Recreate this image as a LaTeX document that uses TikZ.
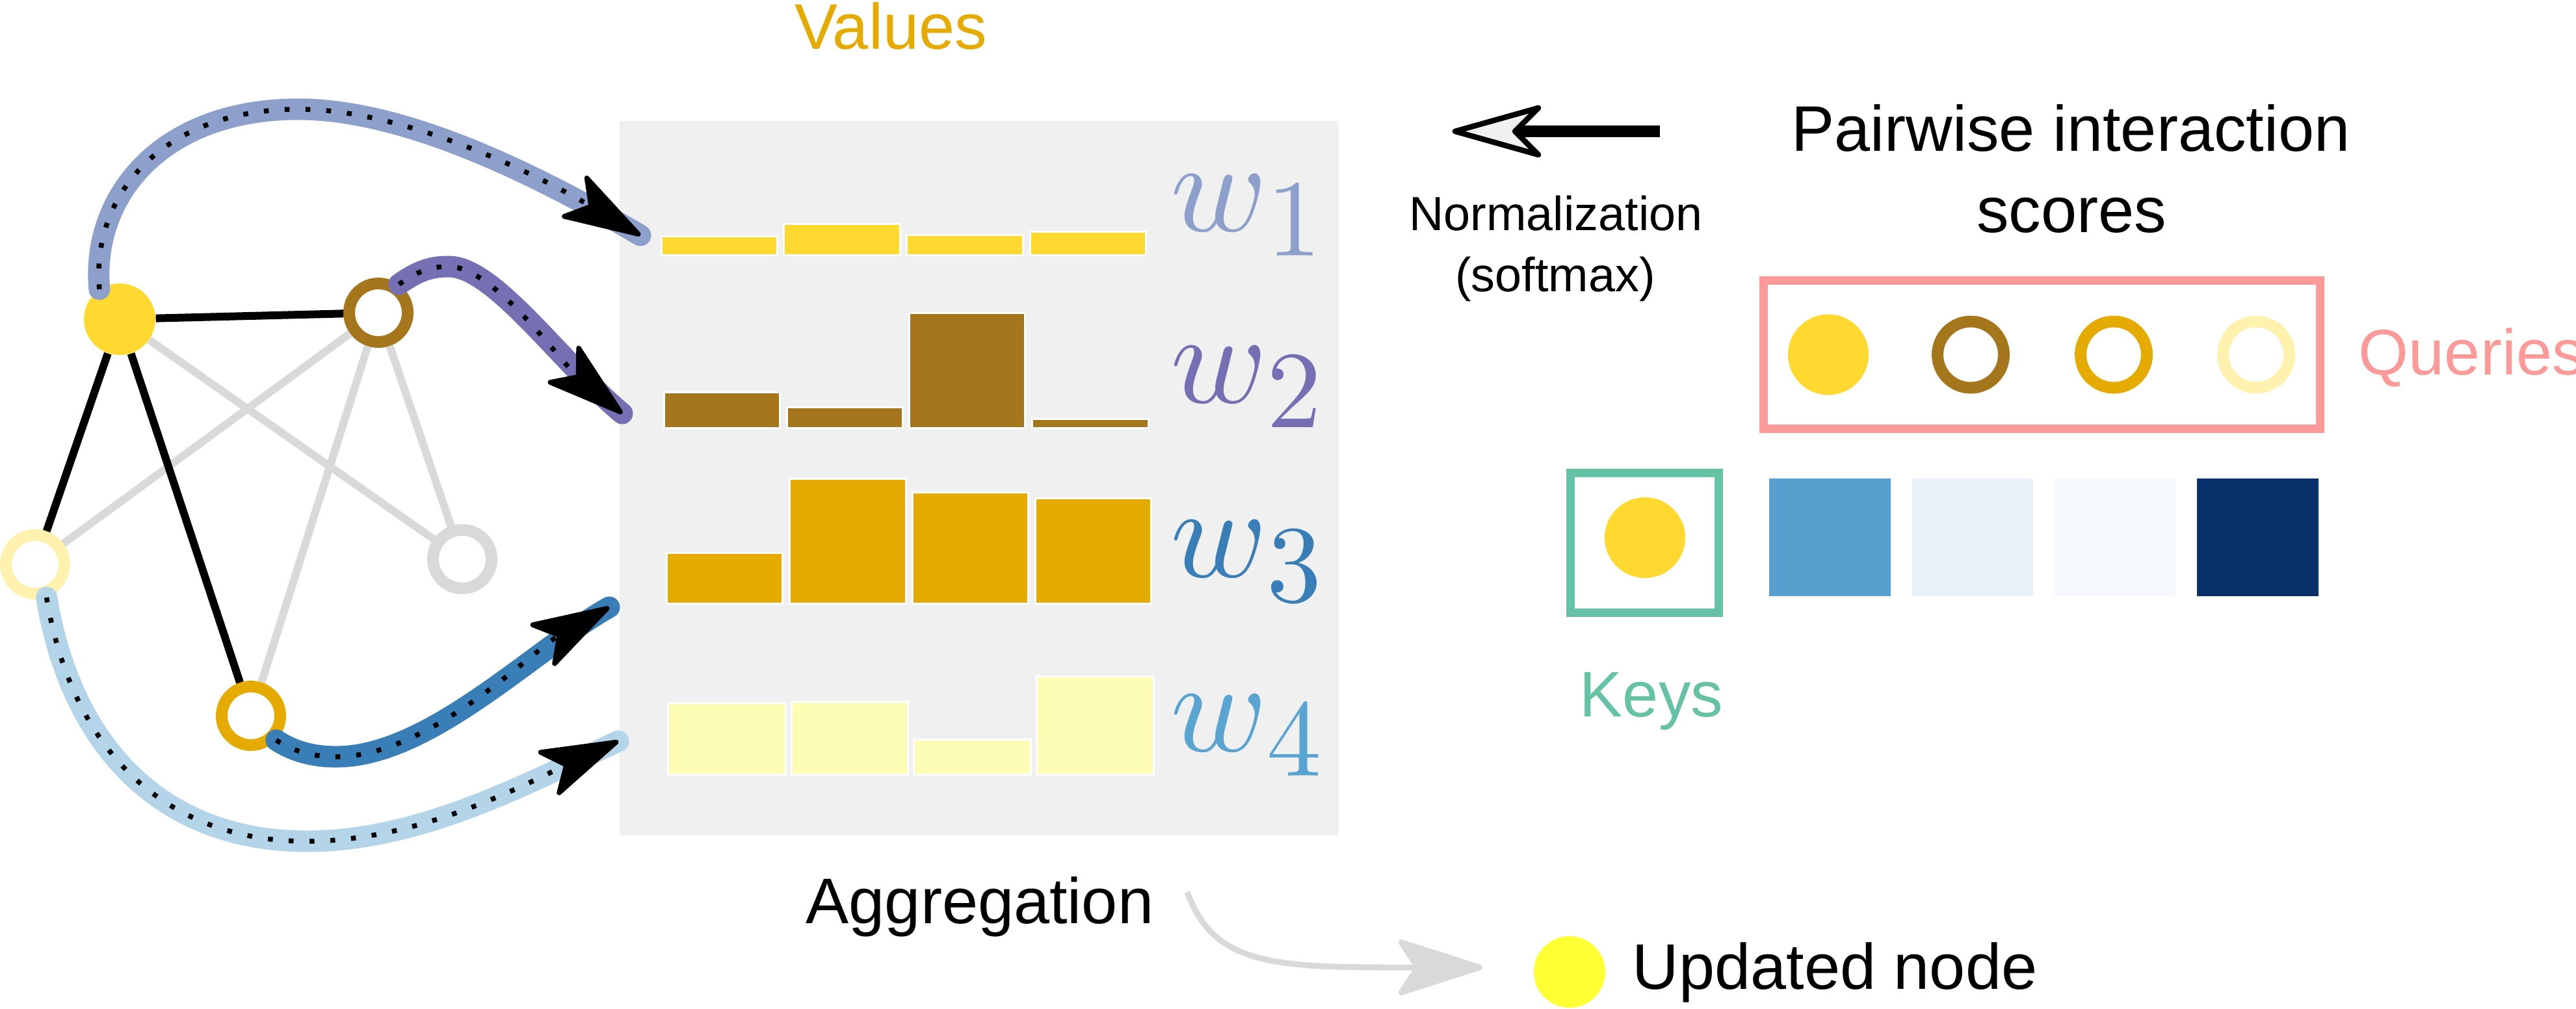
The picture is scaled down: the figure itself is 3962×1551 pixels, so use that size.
\documentclass[tikz,border=0pt]{standalone}
\usepackage{fontspec}
\setmainfont{Liberation Sans}
\newfontfamily\lmm{Latin Modern Math}
\usetikzlibrary{arrows.meta}
\definecolor{nYellow}{HTML}{FFD92F}
\definecolor{nBrown}{HTML}{A6761D}
\definecolor{nGold}{HTML}{E6AB02}
\definecolor{nLight}{HTML}{FFF2AE}
\definecolor{cEdge}{HTML}{D9D9D9}
\definecolor{cPanel}{HTML}{F0F0F0}
\definecolor{cBarL}{HTML}{FDFDB5}
\definecolor{cA}{HTML}{8DA0CB}
\definecolor{cB}{HTML}{7570B3}
\definecolor{cC}{HTML}{3A7EB8}
\definecolor{cD}{HTML}{B4D4E9}
\definecolor{cWfour}{HTML}{5AA4D2}
\definecolor{cQ}{HTML}{FB9A99}
\definecolor{cK}{HTML}{66C2A5}
\definecolor{sA}{HTML}{569FCE}
\definecolor{sB}{HTML}{E9F1FA}
\definecolor{sC}{HTML}{F5F9FE}
\definecolor{sD}{HTML}{08306B}
\definecolor{cUpd}{HTML}{FFFF33}
\newcommand\bigtxt{\fontsize{28.2pt}{34pt}\selectfont}
\newcommand\midtxt{\fontsize{21pt}{25pt}\selectfont}
\newcommand\wsym[1]{{\lmm\fontsize{57}{60}\selectfont\char"1D464\kern0.02em\raisebox{-3.8mm}{\fontsize{48}{50}\selectfont #1}}}
\tikzset{
  gnode/.style={circle, inner sep=0pt, minimum size=9mm, line width=1.8mm, draw=#1, fill=white},
  fnode/.style={circle, inner sep=0pt, minimum size=11mm, fill=#1},
  qring/.style={circle, inner sep=0pt, minimum size=10.2mm, line width=1.8mm, draw=#1, fill=white},
  qfill/.style={circle, inner sep=0pt, minimum size=12.4mm, fill=nYellow},
  strongedge/.style={line width=1.2mm, black},
  weakedge/.style={line width=1.2mm, cEdge},
  band/.style={line width=3.3mm, line cap=round, draw=#1},
  dotline/.style={line width=0.75mm, black, dash pattern=on 0.75mm off 2.45mm,
    -{Stealth[length=13.5mm, width=8.2mm, inset=3.3mm, round]}},
  bar/.style={draw=white, line width=0.3mm, fill=#1},
  lbl/.style={font=\bigtxt, inner sep=0pt, anchor=base},
  wlab/.style={inner sep=0pt, anchor=base west, text=#1},
}
\begin{document}
\begin{tikzpicture}[x=0.1mm, y=-0.1mm]
\useasboundingbox (0,0) rectangle (3962,1551);

% panel
\fill[cPanel] (953,186) rectangle (2059,1285);

% graph nodes
\node[fnode=nYellow] (n1) at (184,491) {};
\node[gnode=nBrown] (n2) at (582,481) {};
\node[gnode=nLight] (n3) at (54,868) {};
\node[gnode=cEdge] (n4) at (711,860) {};
\node[gnode=nGold] (n5) at (386,1101) {};

% edges
\draw[weakedge] (n1) -- (n4);
\draw[weakedge] (n2) -- (n3);
\draw[weakedge] (n2) -- (n5);
\draw[weakedge] (n2) -- (n4);
\draw[strongedge] (n1) -- (n2);
\draw[strongedge] (n1) -- (n3);
\draw[strongedge] (n1) -- (n5);

% bars
\path[bar=nYellow] (1017,363) rectangle (1195,392);
\path[bar=nYellow] (1205,344) rectangle (1384,392);
\path[bar=nYellow] (1394,361) rectangle (1573,392);
\path[bar=nYellow] (1584,356) rectangle (1762,392);
\path[bar=nBrown] (1021,603) rectangle (1199,658);
\path[bar=nBrown] (1210,626) rectangle (1388,658);
\path[bar=nBrown] (1398,481) rectangle (1576,658);
\path[bar=nBrown] (1587,644) rectangle (1766,658);
\path[bar=nGold] (1025,850) rectangle (1203,928);
\path[bar=nGold] (1214,736) rectangle (1393,928);
\path[bar=nGold] (1403,757) rectangle (1581,928);
\path[bar=nGold] (1592,766) rectangle (1770,928);
\path[bar=cBarL] (1027,1081) rectangle (1208,1191);
\path[bar=cBarL] (1217,1079) rectangle (1396,1191);
\path[bar=cBarL] (1405,1137) rectangle (1585,1191);
\path[bar=cBarL] (1594,1040) rectangle (1774,1191);

% weight labels
\node[wlab=cA] (w1) at (1800,355) {\wsym{1}};
\node[wlab=cB] (w2) at (1800,619) {\wsym{2}};
\node[wlab=cC] (w3) at (1800,887) {\wsym{3}};
\node[wlab=cWfour] (w4) at (1800,1155) {\wsym{4}};

% message arrows
\coordinate (e1) at (985,362);
\coordinate (e2) at (957,636);
\coordinate (e3) at (937,934);
\coordinate (e4) at (951,1140);
\draw[band=cA] (n1.124) .. controls (140,300) and (250,168) .. (459,168)
   .. controls (620,168) and (820,265) .. (e1);
\draw[dotline] (n1.124) .. controls (140,300) and (250,168) .. (459,168)
   .. controls (620,168) and (820,265) .. (e1);
\draw[band=cB] (n2.54) .. controls (645,415) and (665,410) .. (690,410)
   .. controls (760,410) and (860,555) .. (e2);
\draw[dotline] (n2.54) .. controls (645,415) and (665,410) .. (690,410)
   .. controls (760,410) and (860,555) .. (e2);
\draw[band=cC] (n5.-44) .. controls (450,1155) and (480,1164) .. (517,1164)
   .. controls (660,1164) and (820,1000) .. (e3);
\draw[dotline] (n5.-44) .. controls (450,1155) and (480,1164) .. (517,1164)
   .. controls (660,1164) and (820,1000) .. (e3);
\draw[band=cD] (n3.-71) .. controls (110,1150) and (250,1294) .. (472,1294)
   .. controls (650,1294) and (820,1200) .. (e4);
\draw[dotline] (n3.-71) .. controls (110,1150) and (250,1294) .. (472,1294)
   .. controls (650,1294) and (820,1200) .. (e4);

% texts
\node[lbl, text=nGold] (values) at (1370,75) {Values};
\node[lbl] (agg) at (1507,1420) {Aggregation};
\node[lbl] (pw1) at (3185,232) {Pairwise interaction};
\node[lbl] (pw2) at (3186,357) {scores};
\node[lbl, font=\midtxt] (norm1) at (2393,354) {Normalization};
\node[lbl, font=\midtxt] (norm2) at (2392,448) {(softmax)};
\node[lbl, anchor=base west, text=cQ] (qlab) at (3627,576) {Queries};
\node[lbl, text=cK] (klab) at (2540,1102) {Keys};
\node[lbl, anchor=base west] (updlab) at (2510,1521) {Updated node};

% normalization arrow (drawn shape)
\fill[black] (2320,193) rectangle (2553,211);
\filldraw[fill=cPanel, draw=black, line width=0.85mm, line join=round]
  (2238,202) -- (2366,166) -- (2330,202) -- (2366,238) -- cycle;

% queries
\node[draw=cQ, line width=1.3mm, minimum width=85.6mm, minimum height=22.8mm, inner sep=0pt] (qbox) at (3140.5,545.5) {};
\node[qfill] (q1) at (2812,545.5) {};
\node[qring=nBrown] (q2) at (3031,545.5) {};
\node[qring=nGold] (q3) at (3251,545.5) {};
\node[qring=nLight] (q4) at (3470,545.5) {};

% keys
\node[draw=cK, line width=1.3mm, minimum width=22.8mm, minimum height=21.5mm, inner sep=0pt] (kbox) at (2529.5,835) {};
\node[qfill] (k1) at (2530,827) {};
\fill[sA] (2721,736) rectangle (2908,917);
\fill[sB] (2941,736) rectangle (3127,917);
\fill[sC] (3160,736) rectangle (3346,917);
\fill[sD] (3379,736) rectangle (3566,917);

% aggregation arrow and updated node
\node[circle, inner sep=0pt, minimum size=11mm, fill=cUpd] (upd) at (2414,1495) {};
\coordinate (aggS) at (1826,1372);
\coordinate (aggE) at (2280,1488);
\draw[cEdge, line width=0.9mm, -{Stealth[length=14.5mm, width=9.2mm, inset=3mm, round]}]
  (aggS) .. controls (1865,1480) and (1950,1488) .. (2140,1488) -- (aggE);
\end{tikzpicture}
\end{document}
